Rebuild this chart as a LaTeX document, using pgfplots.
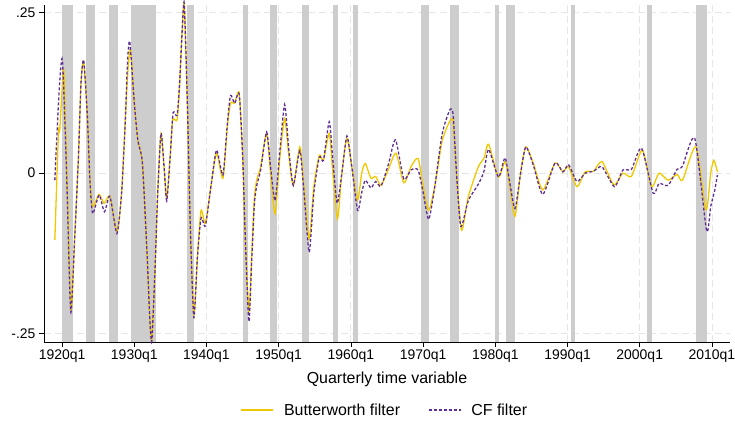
\documentclass[border=0pt]{standalone}
\usepackage{pgfplots}
\pgfplotsset{compat=1.18}
\usepackage{fontspec}
\setmainfont{Liberation Sans}
\definecolor{bwyellow}{RGB}{240,200,0}
\definecolor{cfpurple}{RGB}{95,45,150}
\definecolor{recgray}{RGB}{205,205,205}
\definecolor{gridgray}{RGB}{230,230,230}
\pgfplotsset{recbar/.style={fill=recgray, draw=none, forget plot}}
\begin{document}
\begin{tikzpicture}[x=1bp,y=1bp]
\useasboundingbox (-44,-80) rectangle (691,342);
\begin{axis}[
  scale only axis,
  width=686bp, height=337bp,
  xmin=-170, xmax=210,
  ymin=-0.263, ymax=0.262,
  axis lines=left,
  axis line style={-, black, line width=0.8pt},
  tick align=outside,
  major tick length=5bp,
  tick style={black, line width=0.8pt},
  xtick={-160,-120,-80,-40,0,40,80,120,160,200},
  xticklabels={1920q1,1930q1,1940q1,1950q1,1960q1,1970q1,1980q1,1990q1,2000q1,2010q1},
  ytick={-0.25,0,0.25},
  yticklabels={-.25,0,.25},
  ticklabel style={font=\fontsize{14}{16}\selectfont},
  xticklabel style={yshift=1bp},
  grid=major,
  major grid style={gridgray, dashed, dash pattern=on 7bp off 4bp, line width=0.9pt},
  xlabel={Quarterly time variable},
  xlabel style={at={(axis description cs:0.5,-0.11)}, anchor=center, font=\fontsize{16}{18}\selectfont},
  legend style={at={(axis description cs:0.497,-0.202)}, anchor=center, draw=none, fill=none,
    legend columns=2, font=\fontsize{16}{18}\selectfont,
    /tikz/every odd column/.append style={column sep=8bp},
    /tikz/every even column/.append style={column sep=26bp}},
  legend image code/.code={\draw[#1] (0bp,0bp) -- (32bp,0bp);},
  clip=false,
]
% recession bars
\addplot[recbar] coordinates {(-160,-0.263) (-160,0.262) (-154,0.262) (-154,-0.263)} -- cycle;
\addplot[recbar] coordinates {(-147,-0.263) (-147,0.262) (-142,0.262) (-142,-0.263)} -- cycle;
\addplot[recbar] coordinates {(-134,-0.263) (-134,0.262) (-129,0.262) (-129,-0.263)} -- cycle;
\addplot[recbar] coordinates {(-122,-0.263) (-122,0.262) (-108,0.262) (-108,-0.263)} -- cycle;
\addplot[recbar] coordinates {(-91,-0.263) (-91,0.262) (-87,0.262) (-87,-0.263)} -- cycle;
\addplot[recbar] coordinates {(-60,-0.263) (-60,0.262) (-57,0.262) (-57,-0.263)} -- cycle;
\addplot[recbar] coordinates {(-45,-0.263) (-45,0.262) (-41,0.262) (-41,-0.263)} -- cycle;
\addplot[recbar] coordinates {(-27,-0.263) (-27,0.262) (-23,0.262) (-23,-0.263)} -- cycle;
\addplot[recbar] coordinates {(-10,-0.263) (-10,0.262) (-7,0.262) (-7,-0.263)} -- cycle;
\addplot[recbar] coordinates {(1,-0.263) (1,0.262) (4,0.262) (4,-0.263)} -- cycle;
\addplot[recbar] coordinates {(39,-0.263) (39,0.262) (43,0.262) (43,-0.263)} -- cycle;
\addplot[recbar] coordinates {(55,-0.263) (55,0.262) (60,0.262) (60,-0.263)} -- cycle;
\addplot[recbar] coordinates {(80,-0.263) (80,0.262) (82,0.262) (82,-0.263)} -- cycle;
\addplot[recbar] coordinates {(86,-0.263) (86,0.262) (91,0.262) (91,-0.263)} -- cycle;
\addplot[recbar] coordinates {(122,-0.263) (122,0.262) (124,0.262) (124,-0.263)} -- cycle;
\addplot[recbar] coordinates {(164,-0.263) (164,0.262) (167,0.262) (167,-0.263)} -- cycle;
\addplot[recbar] coordinates {(191,-0.263) (191,0.262) (197,0.262) (197,-0.263)} -- cycle;
% Butterworth filter
\addplot[bwyellow, line width=1.3pt, smooth, tension=0.4] coordinates {
(-164,-0.104) (-162,0.062) (-161.3,0.066) (-160,0.13) (-159,0.158) (-157,-0.03) (-155,-0.213)
(-153,-0.10) (-151,0.02) (-149.5,0.14) (-148,0.173) (-146,0.09) (-144.5,-0.01) (-143,-0.052)
(-139.5,-0.033) (-136.7,-0.047) (-133.5,-0.036) (-129.6,-0.091) (-127,-0.03) (-125,0.08)
(-123.5,0.16) (-122,0.192) (-120,0.11) (-118,0.051) (-115.5,0.016) (-113,-0.12) (-111.5,-0.22)
(-110.3,-0.26) (-108.5,-0.15) (-107,-0.03) (-105.2,0.062) (-103.5,0.01) (-102,-0.039)
(-100,0.03) (-98.7,0.083) (-96.3,0.083) (-95,0.13) (-93.5,0.22) (-92.3,0.262) (-90.5,0.10)
(-89,-0.08) (-87,-0.221) (-85,-0.13) (-83,-0.058) (-80.6,-0.078) (-77.5,-0.02) (-74.4,0.031)
(-70.9,-0.008) (-68.5,0.07) (-66.7,0.109) (-64.4,0.109) (-61.9,0.125) (-60,0.03) (-58.5,-0.10)
(-56.5,-0.216) (-55,-0.13) (-53.5,-0.04) (-52.2,-0.011) (-50,0.010) (-46.7,0.062) (-44.5,0.0)
(-42,-0.063) (-39.5,0.02) (-36.7,0.085) (-34.5,0.03) (-31.9,-0.019) (-28.3,0.041) (-26,-0.02)
(-23.1,-0.102) (-20.5,-0.02) (-17.5,0.028) (-15.2,0.020) (-12,0.062) (-10,0.0) (-7.4,-0.071)
(-5,0.0) (-2.2,0.054) (0.5,0.01) (3.7,-0.042) (6,0.0) (8,0.015) (11.1,-0.008) (13.7,-0.005)
(16.7,-0.019) (20.9,0.007) (25,0.031) (29.3,-0.015) (33.3,0.010) (37.2,0.023) (40,-0.02)
(43.1,-0.058) (46.5,-0.02) (50.6,0.051) (55.2,0.083) (56.7,0.078) (58.5,0.0) (61.3,-0.089)
(65,-0.037) (70.6,0.010) (73.7,0.023) (76.3,0.045) (81.7,-0.006) (85.4,0.018) (88,-0.02)
(90.9,-0.067) (94,0.0) (96.9,0.041) (101.1,0.015) (106.3,-0.026) (113.1,0.016) (117.4,0.002)
(120.6,0.010) (125.2,-0.021) (129.8,0.002) (134.4,0.003) (139.1,0.018) (145.6,-0.018)
(150.7,0.0) (155.4,-0.005) (161.5,0.036) (166.5,-0.021) (170.7,0.0) (175.7,-0.011)
(180.7,-0.002) (183.7,-0.011) (191.1,0.041) (196.7,-0.057) (199.3,0.0) (201.1,0.020) (203,0.002)
};
\addlegendentry{Butterworth filter}
% CF filter
\addplot[cfpurple, line width=1.3pt, dash pattern=on 3bp off 2bp, smooth, tension=0.4] coordinates {
(-164,-0.011) (-161.7,0.124) (-159.8,0.176) (-157.5,0.0) (-155.2,-0.216)
(-153,-0.10) (-151,0.02) (-149.5,0.14) (-148,0.176) (-146,0.09) (-144.5,-0.015) (-143,-0.063)
(-139.5,-0.034) (-136.5,-0.060) (-133.5,-0.036) (-129.6,-0.094) (-127,-0.03) (-125,0.08)
(-123.8,0.17) (-122.5,0.205) (-120,0.11) (-118,0.051) (-115.5,0.016) (-113,-0.12) (-111.5,-0.22)
(-110.3,-0.262) (-108.5,-0.15) (-107,-0.03) (-105.2,0.062) (-103.5,0.01) (-102,-0.043)
(-100,0.03) (-98.5,0.094) (-96.3,0.09) (-95,0.135) (-93.5,0.22) (-92.3,0.264) (-90.5,0.10)
(-89,-0.08) (-87,-0.225) (-85,-0.13) (-83,-0.07) (-80.6,-0.082) (-77.5,-0.02) (-74.4,0.036)
(-70.9,-0.003) (-68.5,0.075) (-66.7,0.121) (-64.4,0.109) (-61.9,0.123) (-60,0.03) (-58.5,-0.10)
(-56.5,-0.231) (-55,-0.14) (-53.5,-0.05) (-52.2,-0.02) (-50,0.005) (-46.7,0.064) (-44.5,0.01)
(-42,-0.043) (-39.5,0.03) (-36.7,0.107) (-34.5,0.04) (-31.9,-0.019) (-28.3,0.035) (-26,-0.03)
(-23.1,-0.123) (-20.5,-0.03) (-17.5,0.025) (-15.2,0.020) (-12,0.080) (-10,0.02) (-7.6,-0.047)
(-5,0.0) (-2.2,0.058) (0.5,0.01) (3.7,-0.058) (6,-0.03) (8,-0.011) (11.1,-0.023) (13.7,-0.013)
(16.7,-0.020) (20.9,0.015) (24.7,0.052) (29.3,-0.009) (33.3,0.005) (37.2,0.005) (40,-0.03)
(43.1,-0.072) (46.5,-0.02) (50.6,0.062) (54.9,0.099) (56.7,0.089) (58.5,0.0) (60.9,-0.083)
(65,-0.043) (70.6,-0.017) (73.7,0.003) (76.3,0.037) (81.7,-0.006) (85.4,0.024) (88,-0.015)
(90.9,-0.055) (94,0.0) (96.9,0.041) (101.1,0.012) (106.3,-0.033) (113.1,0.016) (117.4,0.002)
(120.6,0.013) (125.2,-0.013) (129.8,0.0) (134.4,0.003) (139.1,0.010) (146,-0.021)
(150.7,0.005) (155.4,0.006) (161,0.039) (167.4,-0.031) (170.7,-0.016) (175.7,-0.019)
(180.7,0.006) (183.7,0.011) (190.5,0.054) (197,-0.089) (199.3,-0.052) (201.5,-0.027) (203,-0.003)
};
\addlegendentry{CF filter}
\end{axis}
\end{tikzpicture}
\end{document}
